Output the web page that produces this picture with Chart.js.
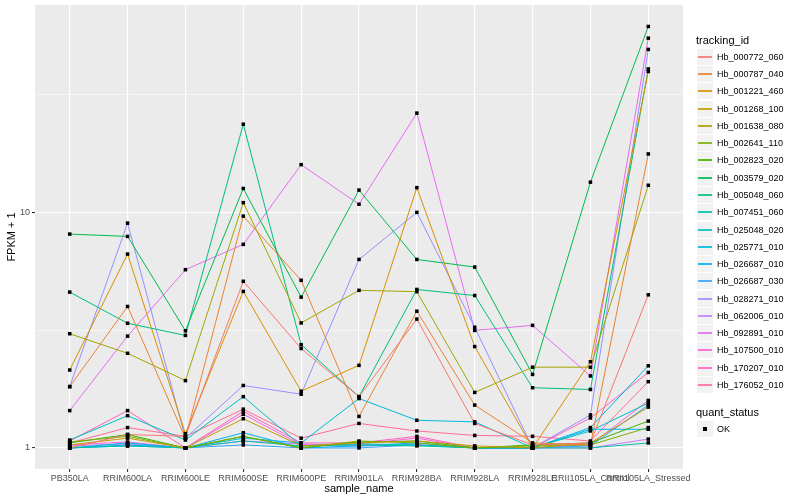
<!DOCTYPE html>
<html>
<head>
<meta charset="utf-8">
<script src="https://cdn.jsdelivr.net/npm/chart.js@4.4.1/dist/chart.umd.min.js"></script>
<style>
  body { margin: 0; background: #fff; font-family: "Liberation Sans", Arial, sans-serif; }
  #wrap { position: relative; width: 800px; height: 500px; }
  #legend { position: absolute; left: 0; top: 0; width: 800px; height: 500px; pointer-events: none; }
  .lt { position: absolute; left: 696px; font-size: 11px; color: #000; line-height: 13px; }
  .key { position: absolute; left: 697px; width: 16px; height: 16px; background: #f2f2f2; }
  .key i { position: absolute; display: block; left: 1px; width: 14px; top: 7px; height: 2px; opacity: 0.85; }
  .key b { position: absolute; left: 6px; top: 6px; width: 4px; height: 4px; background: #000; }
  .li { position: absolute; left: 717px; font-size: 9px; color: #000; line-height: 11px; }
</style>
</head>
<body>
<div id="wrap">
  <canvas id="c" width="800" height="500"></canvas>
  <div id="legend"></div>
</div>
<script>
const categories = ['PB350LA', 'RRIM600LA', 'RRIM600LE', 'RRIM600SE', 'RRIM600PE', 'RRIM901LA',
  'RRIM928BA', 'RRIM928LA', 'RRIM928LE', 'RRII105LA_Control', 'RRII105LA_Stressed'];

// FPKM + 1 per sample
const hb_000772_060 = [1.0, 1.14, 1.12, 5.09, 2.64, 1.65, 3.52, 1.27, 1.03, 1.05, 4.46];
const hb_000787_040 = [1.82, 3.98, 1.1, 9.62, 5.14, 1.36, 3.8, 1.52, 1.05, 1.03, 17.65];
const hb_001221_460 = [2.14, 6.64, 1.15, 4.61, 1.74, 2.24, 12.7, 2.69, 1.0, 2.32, 39.5];
const hb_001268_100 = [1.03, 1.1, 1.0, 1.33, 1.02, 1.05, 1.07, 1.02, 1.0, 1.05, 1.49];
const hb_001638_080 = [3.05, 2.52, 1.93, 10.97, 3.39, 4.66, 4.6, 1.72, 2.2, 2.2, 13.0];
const hb_002641_110 = [1.06, 1.12, 1.0, 1.12, 1.0, 1.07, 1.05, 1.0, 1.02, 1.03, 1.22];
const hb_002823_020 = [1.05, 1.14, 1.0, 1.12, 1.0, 1.06, 1.07, 1.0, 1.03, 1.05, 1.3];
const hb_003579_020 = [8.07, 7.89, 3.14, 12.6, 4.36, 12.4, 6.3, 5.85, 2.05, 13.4, 61.3];
const hb_005048_060 = [4.58, 3.38, 3.0, 23.6, 2.74, 1.65, 4.7, 4.43, 1.8, 1.77, 40.5];
const hb_007451_060 = [1.0, 1.02, 1.0, 1.07, 1.02, 1.03, 1.02, 1.0, 1.0, 1.0, 1.05];
const hb_025048_020 = [1.08, 1.37, 1.08, 1.65, 1.02, 1.04, 1.03, 1.0, 1.0, 1.18, 1.55];
const hb_025771_010 = [1.0, 1.05, 1.0, 1.1, 1.05, 1.62, 1.31, 1.29, 1.0, 1.22, 2.23];
const hb_026687_010 = [1.0, 1.03, 1.0, 1.16, 1.0, 1.02, 1.05, 1.0, 1.0, 1.2, 1.2];
const hb_026687_030 = [1.0, 1.02, 1.0, 1.03, 1.0, 1.0, 1.03, 1.0, 1.0, 1.02, 1.52];
const hb_028271_010 = [1.82, 8.98, 1.1, 1.84, 1.69, 6.3, 9.98, 3.25, 1.0, 1.38, 49.0];
const hb_062006_010 = [1.02, 1.04, 1.0, 1.07, 1.04, 1.02, 1.03, 1.0, 1.0, 1.0, 1.09];
const hb_092891_010 = [1.44, 2.98, 5.7, 7.3, 15.9, 10.8, 26.3, 3.15, 3.31, 2.02, 54.7];
const hb_107500_010 = [1.03, 1.06, 1.0, 1.39, 1.03, 1.04, 1.1, 1.0, 1.0, 1.03, 1.59];
const hb_170207_010 = [1.07, 1.44, 1.0, 1.43, 1.05, 1.05, 1.12, 1.0, 1.0, 1.34, 2.09];
const hb_176052_010 = [1.05, 1.22, 1.12, 1.46, 1.1, 1.27, 1.18, 1.13, 1.12, 1.07, 1.91];

const trackingIds = ['Hb_000772_060', 'Hb_000787_040', 'Hb_001221_460', 'Hb_001268_100', 'Hb_001638_080',
  'Hb_002641_110', 'Hb_002823_020', 'Hb_003579_020', 'Hb_005048_060', 'Hb_007451_060',
  'Hb_025048_020', 'Hb_025771_010', 'Hb_026687_010', 'Hb_026687_030', 'Hb_028271_010',
  'Hb_062006_010', 'Hb_092891_010', 'Hb_107500_010', 'Hb_170207_010', 'Hb_176052_010'];
const series = [hb_000772_060, hb_000787_040, hb_001221_460, hb_001268_100, hb_001638_080,
  hb_002641_110, hb_002823_020, hb_003579_020, hb_005048_060, hb_007451_060,
  hb_025048_020, hb_025771_010, hb_026687_010, hb_026687_030, hb_028271_010,
  hb_062006_010, hb_092891_010, hb_107500_010, hb_170207_010, hb_176052_010];
const colors = ['#F8766D', '#EA8331', '#D89000', '#C09B00', '#A3A500', '#7CAE00', '#39B600', '#00BB4E',
  '#00BF7D', '#00C1A3', '#00BFC4', '#00BAE0', '#00B0F6', '#35A2FF', '#9590FF', '#C77CFF',
  '#E76BF3', '#FA62DB', '#FF62BC', '#FF6C91'];
const yTicks = [1, 3.1623, 10, 31.623];   // majors 1, 10 ; minors between
const yMin = 0.814, yMax = 75.6;

const toPts = arr => arr.map((v, i) => ({ x: i, y: v }));

const datasets = series.map((arr, k) => ({
  type: 'line',
  label: trackingIds[k],
  data: toPts(arr),
  borderColor: colors[k],
  borderWidth: 1,
  pointRadius: 0,
  tension: 0,
  order: 1
}));
// points on top of all lines, like geom_point after geom_line
datasets.push({
  type: 'scatter',
  label: 'OK',
  data: series.flatMap(arr => toPts(arr)),
  pointStyle: 'rect',
  pointRadius: 2.5,
  backgroundColor: '#000',
  borderWidth: 0,
  order: 0
});

const isMajor = v => Math.abs(v - 1) < 1e-6 || Math.abs(v - 10) < 1e-6;

new Chart(document.getElementById('c'), {
  data: { datasets },
  options: {
    responsive: false,
    animation: false,
    events: [],
    layout: { padding: { top: 5, right: 117, left: 0, bottom: 0 } },
    plugins: { legend: { display: false }, tooltip: { enabled: false } },
    scales: {
      x: {
        type: 'linear',
        bounds: 'data',
        min: -0.6,
        max: 10.6,
        afterBuildTicks: s => { s.ticks = categories.map((c, i) => ({ value: i })); },
        afterFit: s => { s.height = 31; s.paddingLeft = 0; s.paddingRight = 0; },
        ticks: {
          autoSkip: false, maxRotation: 0, minRotation: 0, padding: 1,
          color: '#4d4d4d', font: { size: 9, family: 'Liberation Sans' },
          callback: v => categories[v]
        },
        grid: { color: '#ffffff', lineWidth: 1.1, tickLength: 3, tickColor: '#333333' },
        border: { display: false },
        title: { display: true, text: 'sample_name', color: '#000', font: { size: 11, family: 'Liberation Sans' }, padding: { top: 0, bottom: 4 } }
      },
      y: {
        type: 'logarithmic',
        bounds: 'data',
        min: yMin,
        max: yMax,
        afterBuildTicks: s => { s.ticks = yTicks.map(v => ({ value: v })); },
        afterFit: s => { s.width = 35; s.paddingTop = 0; s.paddingBottom = 0; },
        ticks: {
          padding: 2, color: '#4d4d4d', font: { size: 9, family: 'Liberation Sans' },
          callback: v => isMajor(v) ? String(Math.round(v)) : ''
        },
        grid: {
          color: '#ffffff',
          lineWidth: c => (c.tick && isMajor(c.tick.value)) ? 1.1 : 0.55,
          tickLength: 3,
          tickColor: c => (c.tick && isMajor(c.tick.value)) ? '#333333' : 'rgba(0,0,0,0)'
        },
        border: { display: false },
        title: { display: true, text: 'FPKM + 1', color: '#000', font: { size: 11, family: 'Liberation Sans' }, padding: { top: 5, bottom: 0 } }
      }
    }
  },
  plugins: [{
    id: 'panelBg',
    beforeDraw: ch => {
      const a = ch.chartArea, ctx = ch.ctx;
      ctx.save();
      ctx.fillStyle = '#ebebeb';
      ctx.fillRect(a.left, a.top, a.right - a.left, a.bottom - a.top);
      ctx.restore();
    }
  }]
});

// legend (two guides, as in ggplot)
const lg = document.getElementById('legend');
const add = (cls, top, html) => {
  const d = document.createElement('div');
  d.className = cls; d.style.top = top + 'px'; d.innerHTML = html;
  lg.appendChild(d); return d;
};
add('lt', 34, 'tracking_id');
trackingIds.forEach((id, k) => {
  const cy = Math.round(56.7 + k * 17.28);
  const key = add('key', cy - 8, '');
  const ln = document.createElement('i'); ln.style.backgroundColor = colors[k]; key.appendChild(ln);
  add('li', cy - 5, id);
});
add('lt', 406, 'quant_status');
const okKey = add('key', 421, '');
okKey.appendChild(document.createElement('b'));
add('li', 424, 'OK');
</script>
</body>
</html>
